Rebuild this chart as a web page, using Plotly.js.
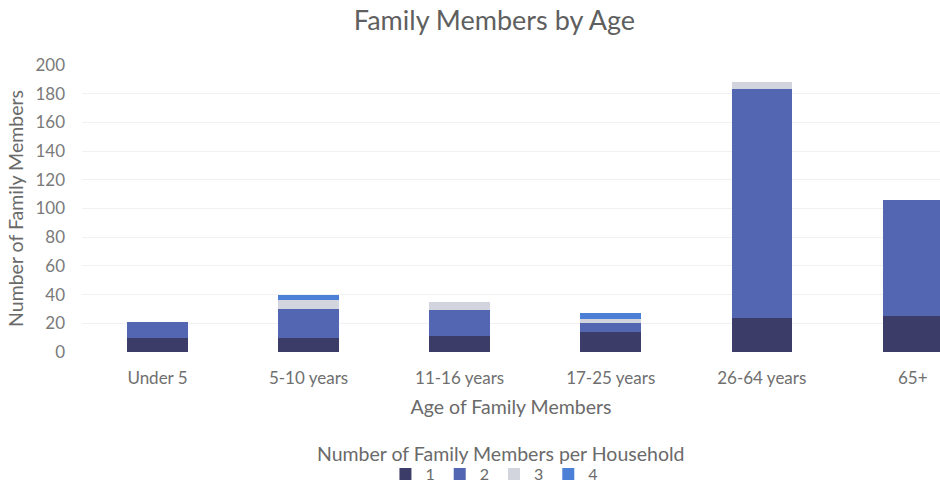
<!DOCTYPE html>
<html><head><meta charset="utf-8">
<script src="https://cdn.plot.ly/plotly-3.0.1.min.js"></script>
<style>html,body{margin:0;padding:0;background:#fff;overflow:hidden;width:940px;height:481px}</style>
</head><body><div style="width:940px;height:481px;overflow:hidden"><div id="chart" style="width:940px;height:491px"></div></div>
<script>
const categories = ["Under 5", "5-10 years", "11-16 years", "17-25 years", "26-64 years", "65+"];
const seriesNames = ["1", "2", "3", "4"];
const legendTitle = "Number of Family Members per Household";
const members1 = [10, 10, 11, 14, 24, 25];
const members2 = [11, 20, 18, 6, 159, 81];
const members3 = [0, 6, 6, 3, 5, 0];
const members4 = [0, 4, 0, 4, 0, 0];
const colors = ["#3b3d68", "#5266b2", "#d2d4de", "#4b80d6"];

const font = "Lato, 'Open Sans', sans-serif";
const traces = [members1, members2, members3, members4].map((v, i) => ({
  type: "bar", name: seriesNames[i], x: categories, y: v,
  marker: {color: colors[i]}, hoverinfo: "x+y+name"
}));

const H = 491;
const layout = {
  width: 940, height: H,
  barmode: "stack", bargap: 0.6,
  margin: {l: 82, r: 0, t: 65, b: H - 352, autoexpand: false},
  paper_bgcolor: "#fff", plot_bgcolor: "#fff",
  font: {family: font, color: "#7a7a7a", size: 17},
  title: {text: "Family Members by Age", x: 0.526, xanchor: "center", y: 1 - 21 / H, yanchor: "middle",
          font: {family: font, size: 27, color: "#5f5f5f"}},
  xaxis: {type: "category", range: [-0.5, 5.18], showline: false, zeroline: false, showgrid: false,
          ticks: "", ticklabelstandoff: 14, tickfont: {size: 17, color: "#6f6f6f"},
          title: {text: "Age of Family Members", font: {size: 19.5, color: "#6a6a6a"}, standoff: 13}},
  yaxis: {range: [0, 200], dtick: 20, showgrid: true, gridcolor: "#f1f1f1", zeroline: false,
          showline: false, ticks: "", ticklen: 0, ticklabelstandoff: 16, tickfont: {size: 17, color: "#7a7a7a"},
          title: {text: "Number of Family Members", font: {size: 19.5, color: "#6a6a6a"}, standoff: 6}},
  annotations: [{text: legendTitle, xref: "paper", yref: "paper", x: 0.488, y: -0.352, xanchor: "center", yanchor: "middle",
                 showarrow: false, font: {size: 19.5, color: "#6a6a6a"}}],
  showlegend: true,
  legend: {orientation: "h", x: 0.526, xref: "container", xanchor: "center", y: 0, yref: "container", yanchor: "bottom",
           traceorder: "normal", font: {size: 16, color: "#6a6a6a"}, itemwidth: 30, itemsizing: "constant",
           tracegroupgap: 0}
};
Plotly.newPlot("chart", traces, layout, {displayModeBar: false, staticPlot: true});
</script></body></html>
